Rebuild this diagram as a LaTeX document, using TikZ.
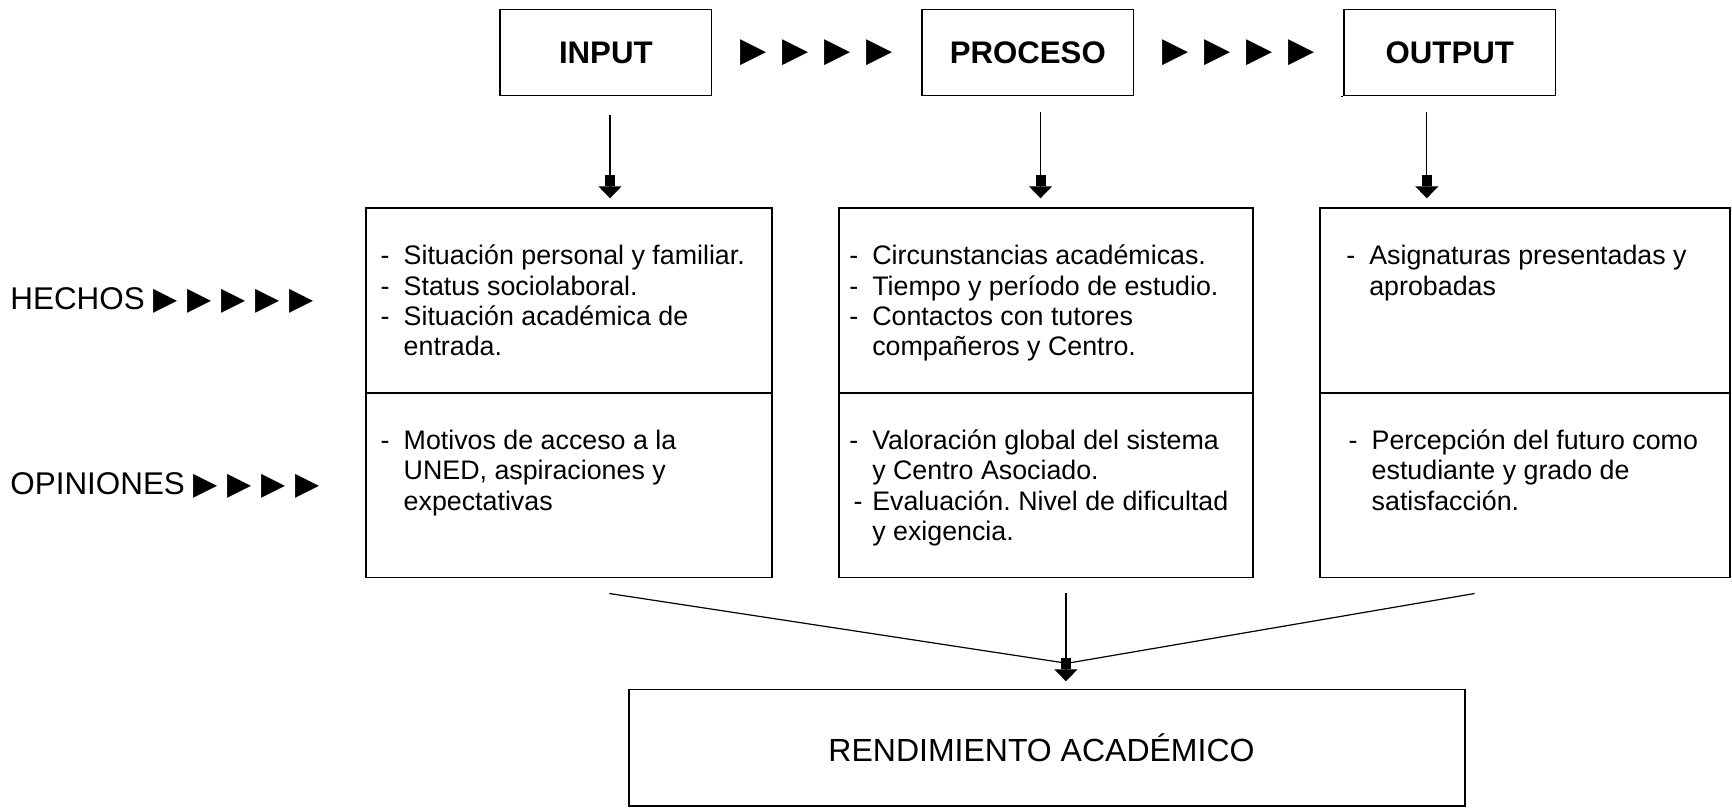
\documentclass[tikz,border=0pt]{standalone}
\usepackage{fontspec}
\setmainfont{Liberation Sans}
\newfontfamily\simbolos{DejaVu Sans}
\usetikzlibrary{positioning, calc, arrows.meta}
\frenchspacing
\newcommand{\guion}{\rule{0pt}{11pt}\makebox[11.5pt][l]{-}}
\newcommand{\sangria}{\hspace*{11.5pt}}
\tikzset{node distance=211pt, % Distance between the three top boxes
every node/.style={inner sep=0pt},
titulo/.style={ % INPUT, PROCESO, OUTPUT
draw, line width=0.7pt,
minimum width=105.8pt, minimum height=43.2pt,
font=\bfseries\fontsize{15.6}{18}\selectfont},
bloque/.style={ % Each half of a content box
draw, line width=0.7pt, minimum height=92.4pt},
texto/.style={ % Text inside the content boxes, top of an 11pt strut
anchor=north west, align=left,
font=\fontsize{13.4}{15.2}\selectfont},
etiqueta/.style={anchor=base west,
font=\fontsize{15.7}{18}\selectfont},
triangulos/.style={font=\simbolos\fontsize{17}{18}\selectfont},
linea/.style={line width=0.6pt},
flecha/.style={ % Thin line with a heavy head
line width=0.6pt,
-{Rectangle[width=5pt,length=5.5pt]Triangle[width=11.5pt,length=6pt]}}}

\begin{document}
\begin{tikzpicture}[x=0.5pt, y=-0.5pt]
    \useasboundingbox (0,0) rectangle (1732,812);
    \node[titulo] (input) at (605.8,52.5) {INPUT};
    \node[titulo, right of=input] (proceso) {PROCESO};
    \node[titulo, right of=proceso] (output) {OUTPUT};
    \draw[line width=0.7pt] (output.south west) -- ++(-1.3pt,0);
    \node[triangulos] (tri1) at ($(input.east)!0.5!(proceso.west)$) {▶\hspace{2.6pt} ▶\hspace{2.6pt} ▶\hspace{2.6pt} ▶};
    \node[triangulos] (tri2) at ($(proceso.east)!0.5!(output.west)$) {▶\hspace{2.6pt} ▶\hspace{2.6pt} ▶\hspace{2.6pt} ▶};

    \node[bloque, minimum width=202.9pt] (hin) at (568.9,300.4) {};
    \node[bloque, minimum width=202.9pt, below=-0.7pt of hin] (oin) {};
    \node[bloque, minimum width=206.9pt] (hproc) at (1045.9,300.4) {};
    \node[bloque, minimum width=206.9pt, below=-0.7pt of hproc] (oproc) {};
    \node[bloque, minimum width=204.9pt] (hout) at (1524.9,300.4) {};
    \node[bloque, minimum width=204.9pt, below=-0.7pt of hout] (oout) {};

    \node[texto] (thin) at ([xshift=7.5pt, yshift=-17.5pt]hin.north west)
        {\guion Situación personal y familiar.\\ \guion Status sociolaboral.\\
         \guion Situación académica de\\ \sangria entrada.};
    \node[texto] (toin) at ([xshift=7.5pt, yshift=-17.4pt]oin.north west)
        {\guion Motivos de acceso a la\\ \sangria UNED, aspiraciones y\\ \sangria expectativas};
    \node[texto] (thproc) at ([xshift=5.3pt, yshift=-17.5pt]hproc.north west)
        {\guion Circunstancias académicas.\\ \guion Tiempo y período de estudio.\\
         \guion Contactos con tutores\\ \sangria compañeros y Centro.};
    \node[texto] (toproc) at ([xshift=5.3pt, yshift=-17.4pt]oproc.north west)
        {\guion Valoración global del sistema\\ \sangria y Centro Asociado.\\
         \makebox[11.5pt][l]{\hspace{2.2pt}-}Evaluación. Nivel de dificultad\\ \sangria y exigencia.};
    \node[texto] (thout) at ([xshift=13.3pt, yshift=-17.5pt]hout.north west)
        {\guion Asignaturas presentadas y\\ \sangria aprobadas};
    \node[texto] (toout) at ([xshift=14.5pt, yshift=-17.4pt]oout.north west)
        {\guion Percepción del futuro como\\ \sangria estudiante y grado de\\ \sangria satisfacción.};

    \node[etiqueta] (hechos) at (10,310) {HECHOS {\simbolos ▶ ▶ ▶ ▶ ▶}};
    \node[etiqueta] (opiniones) at (10,494.5) {OPINIONES {\simbolos ▶ ▶ ▶ ▶}};

    \node[draw, line width=0.7pt, minimum width=418pt, minimum height=58.4pt,
        font=\fontsize{16}{18}\selectfont] (rend) at (1047,747.7) {RENDIMIENTO ACADÉMICO\hspace*{5.5pt}};
    \coordinate (junta) at ([xshift=10pt, yshift=12.65pt]rend.north);

    \draw[flecha, shorten <=9.5pt, shorten >=4.5pt] ([xshift=2.1pt]input.south) -- ([xshift=2.1pt]input.south |- hin.north);
    \draw[flecha, shorten <=8pt, shorten >=4.5pt] ([xshift=6.35pt]proceso.south) -- ([xshift=6.35pt]proceso.south |- hproc.north);
    \draw[flecha, shorten <=8pt, shorten >=4.5pt] ([xshift=-11.5pt]output.south) -- ([xshift=-11.5pt]output.south |- hout.north);
    \draw[linea] ([xshift=20.2pt, yshift=-7.6pt]oin.south) -- (junta);
    \draw[linea] ([xshift=-25.15pt, yshift=-7.6pt]oout.south) -- (junta);
    \draw[flecha, shorten <=7.4pt, shorten >=3.65pt] ([xshift=10pt]oproc.south) -- ([xshift=10pt]oproc.south |- rend.north);
\end{tikzpicture}
\end{document}
